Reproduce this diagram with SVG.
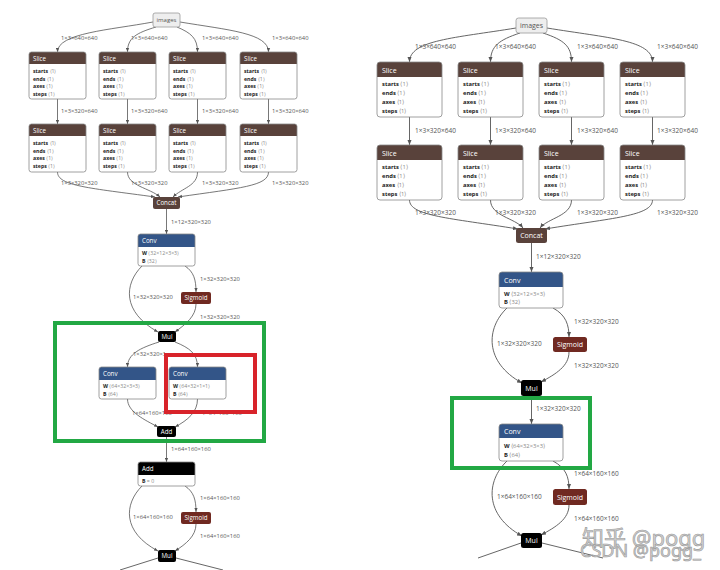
<svg xmlns="http://www.w3.org/2000/svg" width="720" height="570" viewBox="0 0 720 570">
<style>
text{font-family:"Open Sans","Noto Sans",sans-serif}
.e{fill:none;stroke:#555;stroke-width:0.8;marker-end:url(#aL)}
.f{fill:none;stroke:#555;stroke-width:0.9;marker-end:url(#aR)}
.n{fill:none;stroke:#555;stroke-width:0.9}
.el{font-size:5.8px;fill:#555}
.er{font-size:6.5px;fill:#555}
.bg{fill:#fff}
.bd{fill:none;stroke:#888;stroke-width:0.8}
.tn{fill:rgb(89,66,59)}
.ly{fill:rgb(51,85,136)}
.ac{fill:rgb(112,41,33)}
.bk{fill:#000}
.in{fill:#eee;stroke:#999;stroke-width:0.8}
.hL{font-size:6.2px;fill:#fff}
.hR{font-size:7px;fill:#fff}
.cL{font-size:6.2px;fill:#fff;text-anchor:middle}
.cR{font-size:7px;fill:#fff;text-anchor:middle}
.iL{font-size:6px;fill:#555;text-anchor:middle}
.iR{font-size:7px;fill:#555;text-anchor:middle}
.aL{font-size:5.2px;fill:#888}
.aR{font-size:5.8px;fill:#888}
.an{font-weight:bold;fill:#222}
.gb{fill:none;stroke:#22a844;stroke-width:4}
.rb{fill:none;stroke:#d8232a;stroke-width:4}
.wm{font-family:"Noto Sans","Noto Sans CJK SC",sans-serif;fill:#cfcfcf;stroke:#999;stroke-width:0.6}
</style>
<defs>
<marker id="aL" viewBox="0 0 10 10" refX="10" refY="5" markerWidth="4" markerHeight="4" orient="auto" markerUnits="userSpaceOnUse"><path d="M0,1L10,5L0,9z" fill="#555"/></marker>
<marker id="aR" viewBox="0 0 10 10" refX="10" refY="5" markerWidth="5" markerHeight="5" orient="auto" markerUnits="userSpaceOnUse"><path d="M0,1L10,5L0,9z" fill="#555"/></marker>
<clipPath id="clipA"><rect x="0" y="340" width="165" height="30"/></clipPath>
</defs>
<rect width="720" height="570" fill="#fff"/>

<!-- connectors -->
<g id="connectors">
<!-- left graph -->
<path class="e" d="M153,22 C110,30 57.5,33 57.5,52"/>
<path class="e" d="M156,27 C136,33 127.5,38 127.5,52"/>
<path class="e" d="M177,27 C191,33 197.5,38 197.5,52"/>
<path class="e" d="M180,22 C228,30 268.5,33 268.5,52"/>
<path class="e" d="M57.5,99 L57.5,124"/>
<path class="e" d="M127.5,99 L127.5,124"/>
<path class="e" d="M197.5,99 L197.5,124"/>
<path class="e" d="M268.5,99 L268.5,124"/>
<path class="e" d="M57.5,172 C57.5,186 90,188 155,197"/>
<path class="e" d="M127.5,172 C127.5,186 150,188 160,197"/>
<path class="e" d="M197.5,172 C197.5,186 182,188 173,197"/>
<path class="e" d="M268.5,172 C268.5,186 240,188 178,197"/>
<path class="e" d="M166.5,209 L166.5,234"/>
<path class="e" d="M142,266 C124,284 122,312 158,332"/>
<path class="e" d="M185,266 C194,272 196,280 196,292"/>
<path class="e" d="M196,304 C196,316 186,324 175,332"/>
<path class="e" d="M159,342 C140,348 127.5,354 127.5,367"/>
<path class="e" d="M175,342 C190,348 197.5,354 197.5,367"/>
<path class="e" d="M127.5,399 C127.5,412 145,420 158,427"/>
<path class="e" d="M197.5,399 C197.5,412 188,420 175,427"/>
<path class="e" d="M166.5,437 L166.5,462"/>
<path class="e" d="M142,486 C124,504 122,532 158,551"/>
<path class="e" d="M185,486 C194,492 196,500 196,512"/>
<path class="e" d="M196,524 C196,536 186,544 175,551"/>
<path class="n" d="M158,558 L120,570"/>
<path class="n" d="M176,558 L223,570"/>
<!-- right graph -->
<path class="f" d="M516,28 C455,38 409.5,40 409.5,62"/>
<path class="f" d="M520,33 C499,40 490.5,46 490.5,62"/>
<path class="f" d="M543,33 C564,40 571.5,46 571.5,62"/>
<path class="f" d="M547,28 C608,38 652.5,40 652.5,62"/>
<path class="f" d="M409.5,117 L409.5,145"/>
<path class="f" d="M490.5,117 L490.5,145"/>
<path class="f" d="M571.5,117 L571.5,145"/>
<path class="f" d="M652.5,117 L652.5,145"/>
<path class="f" d="M409.5,200 C409.5,216 450,218 518,229"/>
<path class="f" d="M490.5,200 C490.5,216 515,218 523,228"/>
<path class="f" d="M571.5,200 C571.5,216 548,218 540,228"/>
<path class="f" d="M652.5,200 C652.5,216 612,218 545,229"/>
<path class="f" d="M531.5,243 L531.5,272"/>
<path class="f" d="M507,308 C486,328 484,362 522,383"/>
<path class="f" d="M553,308 C566,315 569,325 569,337"/>
<path class="f" d="M569,352 C569,366 556,374 541,382"/>
<path class="f" d="M531.5,396 L531.5,424"/>
<path class="f" d="M507,461 C486,481 484,515 522,536"/>
<path class="f" d="M553,461 C566,468 569,477 569,489"/>
<path class="f" d="M569,505 C569,519 556,527 541,535"/>
<path class="n" d="M521,543 L478,558"/>
<path class="n" d="M542,543 L603,558"/>
</g>

<!-- edge labels -->
<g id="edge-labels">
<text class="el" x="61" y="40">1×3×640×640</text>
<text class="el" x="131" y="40">1×3×640×640</text>
<text class="el" x="202" y="40">1×3×640×640</text>
<text class="el" x="272" y="40">1×3×640×640</text>
<text class="el" x="61" y="113">1×3×320×640</text>
<text class="el" x="131" y="113">1×3×320×640</text>
<text class="el" x="202" y="113">1×3×320×640</text>
<text class="el" x="272" y="113">1×3×320×640</text>
<text class="el" x="61" y="185">1×3×320×320</text>
<text class="el" x="131" y="185">1×3×320×320</text>
<text class="el" x="202" y="185">1×3×320×320</text>
<text class="el" x="272" y="185">1×3×320×320</text>
<text class="el" x="171" y="224">1×12×320×320</text>
<text class="el" x="200" y="281">1×32×320×320</text>
<text class="el" x="133" y="299">1×32×320×320</text>
<text class="el" x="200" y="319">1×32×320×320</text>
<text class="el" x="133" y="356" clip-path="url(#clipA)">1×32×320×320</text>
<text class="el" x="132" y="415">1×64×160×160</text>
<text class="el" x="202" y="415">1×64×160×160</text>
<text class="el" x="171" y="451">1×64×160×160</text>
<text class="el" x="200" y="500">1×64×160×160</text>
<text class="el" x="133" y="519">1×64×160×160</text>
<text class="el" x="200" y="538">1×64×160×160</text>

<text class="er" x="415" y="49">1×3×640×640</text>
<text class="er" x="495" y="49">1×3×640×640</text>
<text class="er" x="577" y="49">1×3×640×640</text>
<text class="er" x="657" y="49">1×3×640×640</text>
<text class="er" x="415" y="133">1×3×320×640</text>
<text class="er" x="495" y="133">1×3×320×640</text>
<text class="er" x="577" y="133">1×3×320×640</text>
<text class="er" x="657" y="133">1×3×320×640</text>
<text class="er" x="415" y="215">1×3×320×320</text>
<text class="er" x="495" y="215">1×3×320×320</text>
<text class="er" x="577" y="215">1×3×320×320</text>
<text class="er" x="657" y="215">1×3×320×320</text>
<text class="er" x="536" y="259">1×12×320×320</text>
<text class="er" x="574" y="324">1×32×320×320</text>
<text class="er" x="497" y="346">1×32×320×320</text>
<text class="er" x="574" y="368">1×32×320×320</text>
<text class="er" x="536" y="411">1×32×320×320</text>
<text class="er" x="574" y="476">1×64×160×160</text>
<text class="er" x="497" y="499">1×64×160×160</text>
<text class="er" x="574" y="521">1×64×160×160</text>
</g>

<!-- ===== LEFT GRAPH NODES ===== -->
<g id="L-images"><rect class="in" x="153" y="13" width="27" height="14" rx="2"/><text class="iL" x="166.5" y="22.3">images</text></g>

<g id="L-slice-1a" transform="translate(29,52)"><rect class="bg" width="57" height="47" rx="2.5"/><rect class="tn" width="57" height="12" rx="2.5"/><rect class="tn" y="9" width="57" height="3"/><rect class="bd" width="57" height="47" rx="2.5"/><text class="hL" x="4" y="8.6">Slice</text><text class="aL" x="4" y="21"><tspan class="an">starts</tspan> ⟨1⟩</text><text class="aL" x="4" y="28.5"><tspan class="an">ends</tspan> ⟨1⟩</text><text class="aL" x="4" y="36"><tspan class="an">axes</tspan> ⟨1⟩</text><text class="aL" x="4" y="43.5"><tspan class="an">steps</tspan> ⟨1⟩</text></g>
<g id="L-slice-2a" transform="translate(99,52)"><rect class="bg" width="57" height="47" rx="2.5"/><rect class="tn" width="57" height="12" rx="2.5"/><rect class="tn" y="9" width="57" height="3"/><rect class="bd" width="57" height="47" rx="2.5"/><text class="hL" x="4" y="8.6">Slice</text><text class="aL" x="4" y="21"><tspan class="an">starts</tspan> ⟨1⟩</text><text class="aL" x="4" y="28.5"><tspan class="an">ends</tspan> ⟨1⟩</text><text class="aL" x="4" y="36"><tspan class="an">axes</tspan> ⟨1⟩</text><text class="aL" x="4" y="43.5"><tspan class="an">steps</tspan> ⟨1⟩</text></g>
<g id="L-slice-3a" transform="translate(169,52)"><rect class="bg" width="57" height="47" rx="2.5"/><rect class="tn" width="57" height="12" rx="2.5"/><rect class="tn" y="9" width="57" height="3"/><rect class="bd" width="57" height="47" rx="2.5"/><text class="hL" x="4" y="8.6">Slice</text><text class="aL" x="4" y="21"><tspan class="an">starts</tspan> ⟨1⟩</text><text class="aL" x="4" y="28.5"><tspan class="an">ends</tspan> ⟨1⟩</text><text class="aL" x="4" y="36"><tspan class="an">axes</tspan> ⟨1⟩</text><text class="aL" x="4" y="43.5"><tspan class="an">steps</tspan> ⟨1⟩</text></g>
<g id="L-slice-4a" transform="translate(240,52)"><rect class="bg" width="57" height="47" rx="2.5"/><rect class="tn" width="57" height="12" rx="2.5"/><rect class="tn" y="9" width="57" height="3"/><rect class="bd" width="57" height="47" rx="2.5"/><text class="hL" x="4" y="8.6">Slice</text><text class="aL" x="4" y="21"><tspan class="an">starts</tspan> ⟨1⟩</text><text class="aL" x="4" y="28.5"><tspan class="an">ends</tspan> ⟨1⟩</text><text class="aL" x="4" y="36"><tspan class="an">axes</tspan> ⟨1⟩</text><text class="aL" x="4" y="43.5"><tspan class="an">steps</tspan> ⟨1⟩</text></g>

<g id="L-slice-1b" transform="translate(29,124)"><rect class="bg" width="57" height="48" rx="2.5"/><rect class="tn" width="57" height="12" rx="2.5"/><rect class="tn" y="9" width="57" height="3"/><rect class="bd" width="57" height="48" rx="2.5"/><text class="hL" x="4" y="8.6">Slice</text><text class="aL" x="4" y="21"><tspan class="an">starts</tspan> ⟨1⟩</text><text class="aL" x="4" y="28.5"><tspan class="an">ends</tspan> ⟨1⟩</text><text class="aL" x="4" y="36"><tspan class="an">axes</tspan> ⟨1⟩</text><text class="aL" x="4" y="43.5"><tspan class="an">steps</tspan> ⟨1⟩</text></g>
<g id="L-slice-2b" transform="translate(99,124)"><rect class="bg" width="57" height="48" rx="2.5"/><rect class="tn" width="57" height="12" rx="2.5"/><rect class="tn" y="9" width="57" height="3"/><rect class="bd" width="57" height="48" rx="2.5"/><text class="hL" x="4" y="8.6">Slice</text><text class="aL" x="4" y="21"><tspan class="an">starts</tspan> ⟨1⟩</text><text class="aL" x="4" y="28.5"><tspan class="an">ends</tspan> ⟨1⟩</text><text class="aL" x="4" y="36"><tspan class="an">axes</tspan> ⟨1⟩</text><text class="aL" x="4" y="43.5"><tspan class="an">steps</tspan> ⟨1⟩</text></g>
<g id="L-slice-3b" transform="translate(169,124)"><rect class="bg" width="57" height="48" rx="2.5"/><rect class="tn" width="57" height="12" rx="2.5"/><rect class="tn" y="9" width="57" height="3"/><rect class="bd" width="57" height="48" rx="2.5"/><text class="hL" x="4" y="8.6">Slice</text><text class="aL" x="4" y="21"><tspan class="an">starts</tspan> ⟨1⟩</text><text class="aL" x="4" y="28.5"><tspan class="an">ends</tspan> ⟨1⟩</text><text class="aL" x="4" y="36"><tspan class="an">axes</tspan> ⟨1⟩</text><text class="aL" x="4" y="43.5"><tspan class="an">steps</tspan> ⟨1⟩</text></g>
<g id="L-slice-4b" transform="translate(240,124)"><rect class="bg" width="57" height="48" rx="2.5"/><rect class="tn" width="57" height="12" rx="2.5"/><rect class="tn" y="9" width="57" height="3"/><rect class="bd" width="57" height="48" rx="2.5"/><text class="hL" x="4" y="8.6">Slice</text><text class="aL" x="4" y="21"><tspan class="an">starts</tspan> ⟨1⟩</text><text class="aL" x="4" y="28.5"><tspan class="an">ends</tspan> ⟨1⟩</text><text class="aL" x="4" y="36"><tspan class="an">axes</tspan> ⟨1⟩</text><text class="aL" x="4" y="43.5"><tspan class="an">steps</tspan> ⟨1⟩</text></g>

<g id="L-concat"><rect class="tn" x="153" y="197" width="27" height="12" rx="2"/><text class="cL" x="166.5" y="205.3">Concat</text></g>

<g id="L-conv-1" transform="translate(138,234)"><rect class="bg" width="57" height="32" rx="2.5"/><rect class="ly" width="57" height="13" rx="2.5"/><rect class="ly" y="10" width="57" height="3"/><rect class="bd" width="57" height="32" rx="2.5"/><text class="hL" x="4" y="9.2">Conv</text><text class="aL" x="4" y="21"><tspan class="an">W</tspan> ⟨32×12×3×3⟩</text><text class="aL" x="4" y="29"><tspan class="an">B</tspan> ⟨32⟩</text></g>

<g id="L-sigmoid-1"><rect class="ac" x="181" y="292" width="30" height="12" rx="2"/><text class="cL" x="196" y="300.3">Sigmoid</text></g>
<g id="L-mul-1"><rect class="bk" x="158" y="331" width="18" height="11" rx="2"/><text class="cL" x="167" y="338.8">Mul</text></g>

<g id="L-conv-2" transform="translate(99,367)"><rect class="bg" width="57" height="32" rx="2.5"/><rect class="ly" width="57" height="13" rx="2.5"/><rect class="ly" y="10" width="57" height="3"/><rect class="bd" width="57" height="32" rx="2.5"/><text class="hL" x="4" y="9.2">Conv</text><text class="aL" x="4" y="21"><tspan class="an">W</tspan> ⟨64×32×3×3⟩</text><text class="aL" x="4" y="29"><tspan class="an">B</tspan> ⟨64⟩</text></g>
<g id="L-conv-3" transform="translate(169,367)"><rect class="bg" width="57" height="32" rx="2.5"/><rect class="ly" width="57" height="13" rx="2.5"/><rect class="ly" y="10" width="57" height="3"/><rect class="bd" width="57" height="32" rx="2.5"/><text class="hL" x="4" y="9.2">Conv</text><text class="aL" x="4" y="21"><tspan class="an">W</tspan> ⟨64×32×1×1⟩</text><text class="aL" x="4" y="29"><tspan class="an">B</tspan> ⟨64⟩</text></g>

<g id="L-add-1"><rect class="bk" x="157" y="426" width="19" height="11" rx="2"/><text class="cL" x="166.5" y="433.8">Add</text></g>

<g id="L-add-2" transform="translate(138,462)"><rect class="bg" width="57" height="24" rx="2.5"/><rect class="bk" width="57" height="13" rx="2.5"/><rect class="bk" y="10" width="57" height="3"/><rect class="bd" width="57" height="24" rx="2.5"/><text class="hL" x="4" y="9.2">Add</text><text class="aL" x="4" y="20.5"><tspan class="an">B</tspan> = 0</text></g>

<g id="L-sigmoid-2"><rect class="ac" x="181" y="512" width="30" height="12" rx="2"/><text class="cL" x="196" y="520.3">Sigmoid</text></g>
<g id="L-mul-2"><rect class="bk" x="158" y="550" width="18" height="12" rx="2"/><text class="cL" x="167" y="558.3">Mul</text></g>

<!-- annotation boxes (left) -->
<rect id="L-green-box" class="gb" x="55" y="323" width="209" height="118"/>
<rect id="L-red-box" class="rb" x="166" y="355" width="89" height="57"/>

<!-- ===== RIGHT GRAPH NODES ===== -->
<g id="R-images"><rect class="in" x="516" y="18" width="31" height="15" rx="2.5"/><text class="iR" x="531.5" y="28">images</text></g>

<g id="R-slice-1a" transform="translate(377,62)"><rect class="bg" width="65" height="55" rx="3"/><rect class="tn" width="65" height="15" rx="3"/><rect class="tn" y="12" width="65" height="3"/><rect class="bd" width="65" height="55" rx="3"/><text class="hR" x="5" y="10.5">Slice</text><text class="aR" x="5" y="23.5"><tspan class="an">starts</tspan> ⟨1⟩</text><text class="aR" x="5" y="32.5"><tspan class="an">ends</tspan> ⟨1⟩</text><text class="aR" x="5" y="41.5"><tspan class="an">axes</tspan> ⟨1⟩</text><text class="aR" x="5" y="50.5"><tspan class="an">steps</tspan> ⟨1⟩</text></g>
<g id="R-slice-2a" transform="translate(458,62)"><rect class="bg" width="65" height="55" rx="3"/><rect class="tn" width="65" height="15" rx="3"/><rect class="tn" y="12" width="65" height="3"/><rect class="bd" width="65" height="55" rx="3"/><text class="hR" x="5" y="10.5">Slice</text><text class="aR" x="5" y="23.5"><tspan class="an">starts</tspan> ⟨1⟩</text><text class="aR" x="5" y="32.5"><tspan class="an">ends</tspan> ⟨1⟩</text><text class="aR" x="5" y="41.5"><tspan class="an">axes</tspan> ⟨1⟩</text><text class="aR" x="5" y="50.5"><tspan class="an">steps</tspan> ⟨1⟩</text></g>
<g id="R-slice-3a" transform="translate(539,62)"><rect class="bg" width="65" height="55" rx="3"/><rect class="tn" width="65" height="15" rx="3"/><rect class="tn" y="12" width="65" height="3"/><rect class="bd" width="65" height="55" rx="3"/><text class="hR" x="5" y="10.5">Slice</text><text class="aR" x="5" y="23.5"><tspan class="an">starts</tspan> ⟨1⟩</text><text class="aR" x="5" y="32.5"><tspan class="an">ends</tspan> ⟨1⟩</text><text class="aR" x="5" y="41.5"><tspan class="an">axes</tspan> ⟨1⟩</text><text class="aR" x="5" y="50.5"><tspan class="an">steps</tspan> ⟨1⟩</text></g>
<g id="R-slice-4a" transform="translate(620,62)"><rect class="bg" width="65" height="55" rx="3"/><rect class="tn" width="65" height="15" rx="3"/><rect class="tn" y="12" width="65" height="3"/><rect class="bd" width="65" height="55" rx="3"/><text class="hR" x="5" y="10.5">Slice</text><text class="aR" x="5" y="23.5"><tspan class="an">starts</tspan> ⟨1⟩</text><text class="aR" x="5" y="32.5"><tspan class="an">ends</tspan> ⟨1⟩</text><text class="aR" x="5" y="41.5"><tspan class="an">axes</tspan> ⟨1⟩</text><text class="aR" x="5" y="50.5"><tspan class="an">steps</tspan> ⟨1⟩</text></g>

<g id="R-slice-1b" transform="translate(377,145)"><rect class="bg" width="65" height="55" rx="3"/><rect class="tn" width="65" height="15" rx="3"/><rect class="tn" y="12" width="65" height="3"/><rect class="bd" width="65" height="55" rx="3"/><text class="hR" x="5" y="10.5">Slice</text><text class="aR" x="5" y="24"><tspan class="an">starts</tspan> ⟨1⟩</text><text class="aR" x="5" y="33"><tspan class="an">ends</tspan> ⟨1⟩</text><text class="aR" x="5" y="42"><tspan class="an">axes</tspan> ⟨1⟩</text><text class="aR" x="5" y="51"><tspan class="an">steps</tspan> ⟨1⟩</text></g>
<g id="R-slice-2b" transform="translate(458,145)"><rect class="bg" width="65" height="55" rx="3"/><rect class="tn" width="65" height="15" rx="3"/><rect class="tn" y="12" width="65" height="3"/><rect class="bd" width="65" height="55" rx="3"/><text class="hR" x="5" y="10.5">Slice</text><text class="aR" x="5" y="24"><tspan class="an">starts</tspan> ⟨1⟩</text><text class="aR" x="5" y="33"><tspan class="an">ends</tspan> ⟨1⟩</text><text class="aR" x="5" y="42"><tspan class="an">axes</tspan> ⟨1⟩</text><text class="aR" x="5" y="51"><tspan class="an">steps</tspan> ⟨1⟩</text></g>
<g id="R-slice-3b" transform="translate(539,145)"><rect class="bg" width="65" height="55" rx="3"/><rect class="tn" width="65" height="15" rx="3"/><rect class="tn" y="12" width="65" height="3"/><rect class="bd" width="65" height="55" rx="3"/><text class="hR" x="5" y="10.5">Slice</text><text class="aR" x="5" y="24"><tspan class="an">starts</tspan> ⟨1⟩</text><text class="aR" x="5" y="33"><tspan class="an">ends</tspan> ⟨1⟩</text><text class="aR" x="5" y="42"><tspan class="an">axes</tspan> ⟨1⟩</text><text class="aR" x="5" y="51"><tspan class="an">steps</tspan> ⟨1⟩</text></g>
<g id="R-slice-4b" transform="translate(620,145)"><rect class="bg" width="65" height="55" rx="3"/><rect class="tn" width="65" height="15" rx="3"/><rect class="tn" y="12" width="65" height="3"/><rect class="bd" width="65" height="55" rx="3"/><text class="hR" x="5" y="10.5">Slice</text><text class="aR" x="5" y="24"><tspan class="an">starts</tspan> ⟨1⟩</text><text class="aR" x="5" y="33"><tspan class="an">ends</tspan> ⟨1⟩</text><text class="aR" x="5" y="42"><tspan class="an">axes</tspan> ⟨1⟩</text><text class="aR" x="5" y="51"><tspan class="an">steps</tspan> ⟨1⟩</text></g>

<g id="R-concat"><rect class="tn" x="516" y="228" width="31" height="15" rx="2.5"/><text class="cR" x="531.5" y="238">Concat</text></g>

<g id="R-conv-1" transform="translate(499,272)"><rect class="bg" width="64" height="36" rx="3"/><rect class="ly" width="64" height="15" rx="3"/><rect class="ly" y="12" width="64" height="3"/><rect class="bd" width="64" height="36" rx="3"/><text class="hR" x="5" y="10.5">Conv</text><text class="aR" x="5" y="23.5"><tspan class="an">W</tspan> ⟨32×12×3×3⟩</text><text class="aR" x="5" y="32"><tspan class="an">B</tspan> ⟨32⟩</text></g>

<g id="R-sigmoid-1"><rect class="ac" x="553" y="337" width="34" height="15" rx="2.5"/><text class="cR" x="570" y="347">Sigmoid</text></g>
<g id="R-mul-1"><rect class="bk" x="521" y="380" width="21" height="16" rx="2.5"/><text class="cR" x="531.5" y="390.5">Mul</text></g>

<g id="R-conv-2" transform="translate(499,424)"><rect class="bg" width="64" height="37" rx="3"/><rect class="ly" width="64" height="14" rx="3"/><rect class="ly" y="11" width="64" height="3"/><rect class="bd" width="64" height="37" rx="3"/><text class="hR" x="5" y="10">Conv</text><text class="aR" x="5" y="24"><tspan class="an">W</tspan> ⟨64×32×3×3⟩</text><text class="aR" x="5" y="32.5"><tspan class="an">B</tspan> ⟨64⟩</text></g>

<g id="R-sigmoid-2"><rect class="ac" x="553" y="489" width="34" height="16" rx="2.5"/><text class="cR" x="570" y="499.5">Sigmoid</text></g>
<g id="R-mul-2"><rect class="bk" x="521" y="533" width="21" height="15" rx="2.5"/><text class="cR" x="531.5" y="543">Mul</text></g>

<rect id="R-green-box" class="gb" x="452" y="398" width="138" height="70"/>

<!-- watermark -->
<g id="watermark">
<text class="wm" x="582" y="546" font-size="22">知乎 @pogg</text>
<text class="wm" x="580" y="557" font-size="18">CSDN @pogg_</text>
</g>
</svg>
